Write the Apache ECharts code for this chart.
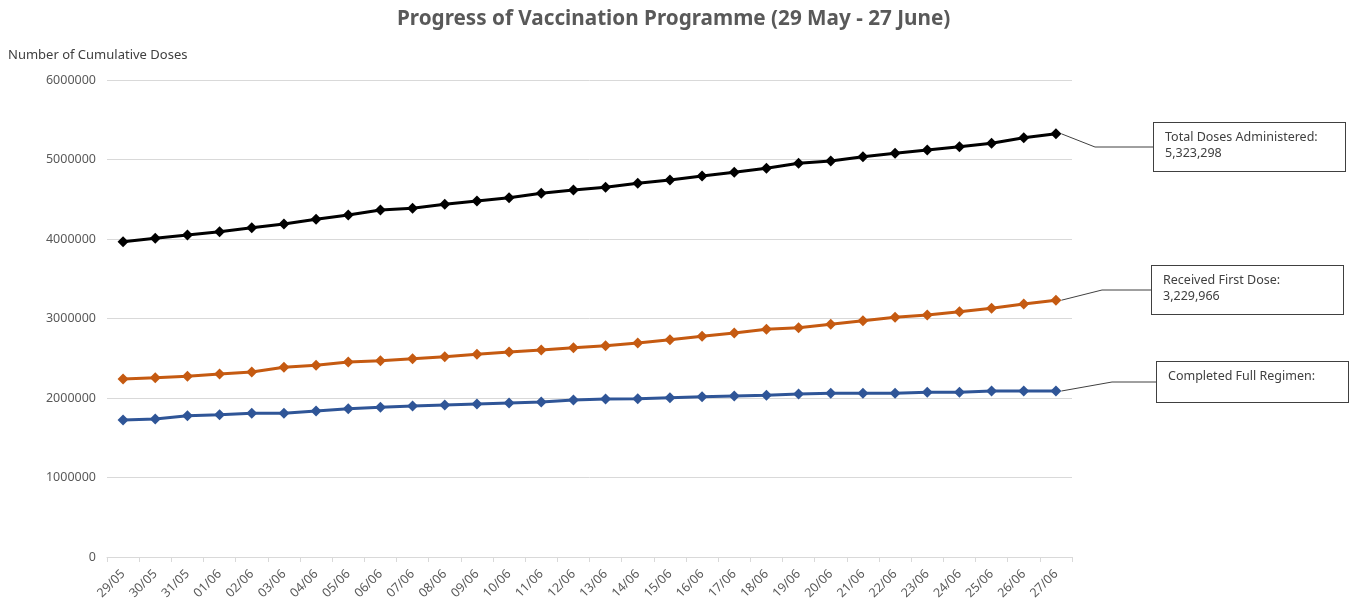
<!DOCTYPE html>
<html>
<head>
<meta charset="utf-8">
<script src="https://cdn.jsdelivr.net/npm/echarts@6/dist/echarts.min.js"></script>
<style>
    html, body { margin: 0; padding: 0; background: #fff; }
    #main { width: 1356px; height: 614px; }
</style>
</head>
<body>
<div id="main"></div>
<script>
const dates = ['29/05', '30/05', '31/05', '01/06', '02/06', '03/06', '04/06', '05/06', '06/06', '07/06',
    '08/06', '09/06', '10/06', '11/06', '12/06', '13/06', '14/06', '15/06', '16/06', '17/06',
    '18/06', '19/06', '20/06', '21/06', '22/06', '23/06', '24/06', '25/06', '26/06', '27/06'];

const totalDoses = [3966000, 4009000, 4050000, 4092000, 4142000, 4189000, 4248000, 4302000, 4365000, 4386000,
    4436000, 4478000, 4519000, 4575000, 4616000, 4650000, 4701000, 4742000, 4792000, 4839000,
    4889000, 4952000, 4981000, 5035000, 5078000, 5119000, 5161000, 5204000, 5274000, 5323298];

const firstDose = [2239000, 2255000, 2273000, 2302000, 2327000, 2386000, 2411000, 2453000, 2469000, 2494000,
    2519000, 2550000, 2579000, 2604000, 2633000, 2658000, 2692000, 2733000, 2776000, 2818000,
    2864000, 2884000, 2927000, 2972000, 3015000, 3044000, 3086000, 3128000, 3182000, 3229966];

const fullRegimen = [1723000, 1736000, 1777000, 1790000, 1808000, 1808000, 1836000, 1865000, 1883000, 1899000,
    1912000, 1925000, 1937000, 1950000, 1975000, 1987000, 1990000, 2004000, 2016000, 2025000,
    2034000, 2050000, 2059000, 2059000, 2059000, 2072000, 2072000, 2088000, 2088000, 2088000];

const calloutText = [
    'Total Doses Administered:\n5,323,298',
    'Received First Dose:\n3,229,966',
    'Completed Full Regimen:'
];

const FONT = '"Noto Sans"';
const last = dates.length - 1;

// only the last point of each series carries the callout box
function withCallout(values, text, boxHeight) {
    return values.map((v, i) => i === last ? {
        value: v,
        label: {
            show: true,
            formatter: text,
            height: boxHeight
        }
    } : v);
}

function lineSeries(name, values, color, text, boxHeight, boxX, boxY, leg) {
    return {
        name: name,
        type: 'line',
        data: withCallout(values, text, boxHeight),
        symbol: 'diamond',
        symbolSize: 11,
        lineStyle: { color: color, width: 3 },
        itemStyle: { color: color },
        label: {
            show: false,
            position: 'right',
            fontFamily: FONT,
            fontSize: 12.5,
            lineHeight: 16,
            color: '#404040',
            backgroundColor: '#fff',
            borderColor: '#404040',
            borderWidth: 1,
            padding: [6, 8, 10, 11],
            width: 172,
            align: 'left',
            verticalAlign: 'top'
        },
        labelLine: {
            show: true,
            length2: leg,
            smooth: false,
            lineStyle: { color: '#404040', width: 1 }
        },
        labelLayout: function (params) {
            if (params.dataIndex !== last) return;
            return { x: boxX, y: boxY, align: 'left', verticalAlign: 'top', hideOverlap: false };
        },
        animation: false,
        z: 3
    };
}

const chart = echarts.init(document.getElementById('main'));

chart.setOption({
    animation: false,
    title: [
        {
            text: 'Progress of Vaccination Programme (29 May - 27 June)',
            left: 392,
            top: 4,
            textStyle: { fontFamily: FONT, fontSize: 20.7, fontWeight: 'bold', color: '#595959' }
        },
        {
            text: 'Number of Cumulative Doses',
            left: 3,
            top: 44,
            textStyle: { fontFamily: FONT, fontSize: 13, fontWeight: 'normal', color: '#404040' }
        }
    ],
    grid: { left: 107, right: 284, top: 80, bottom: 57 },
    xAxis: {
        type: 'category',
        data: dates,
        boundaryGap: true,
        axisLine: { lineStyle: { color: '#d9d9d9' } },
        axisTick: { show: true, length: 5, lineStyle: { color: '#d9d9d9' } },
        axisLabel: {
            interval: 0,
            rotate: 45,
            margin: 15,
            fontFamily: FONT,
            fontSize: 12.5,
            color: '#595959'
        }
    },
    yAxis: {
        type: 'value',
        min: 0,
        max: 6000000,
        interval: 1000000,
        axisLine: { show: false },
        axisTick: { show: false },
        splitLine: { lineStyle: { color: '#d9d9d9' } },
        axisLabel: {
            margin: 11,
            fontFamily: FONT,
            fontSize: 12.5,
            color: '#595959',
            formatter: v => String(v)
        }
    },
    series: [
        lineSeries('Total Doses Administered', totalDoses, '#000000', calloutText[0], 32, 1154, 123, 58),
        lineSeries('Received First Dose', firstDose, '#c55a11', calloutText[1], 32, 1152, 266, 49),
        lineSeries('Completed Full Regimen', fullRegimen, '#2f5597', calloutText[2], 24, 1157, 362, 44)
    ]
});
</script>
</body>
</html>
